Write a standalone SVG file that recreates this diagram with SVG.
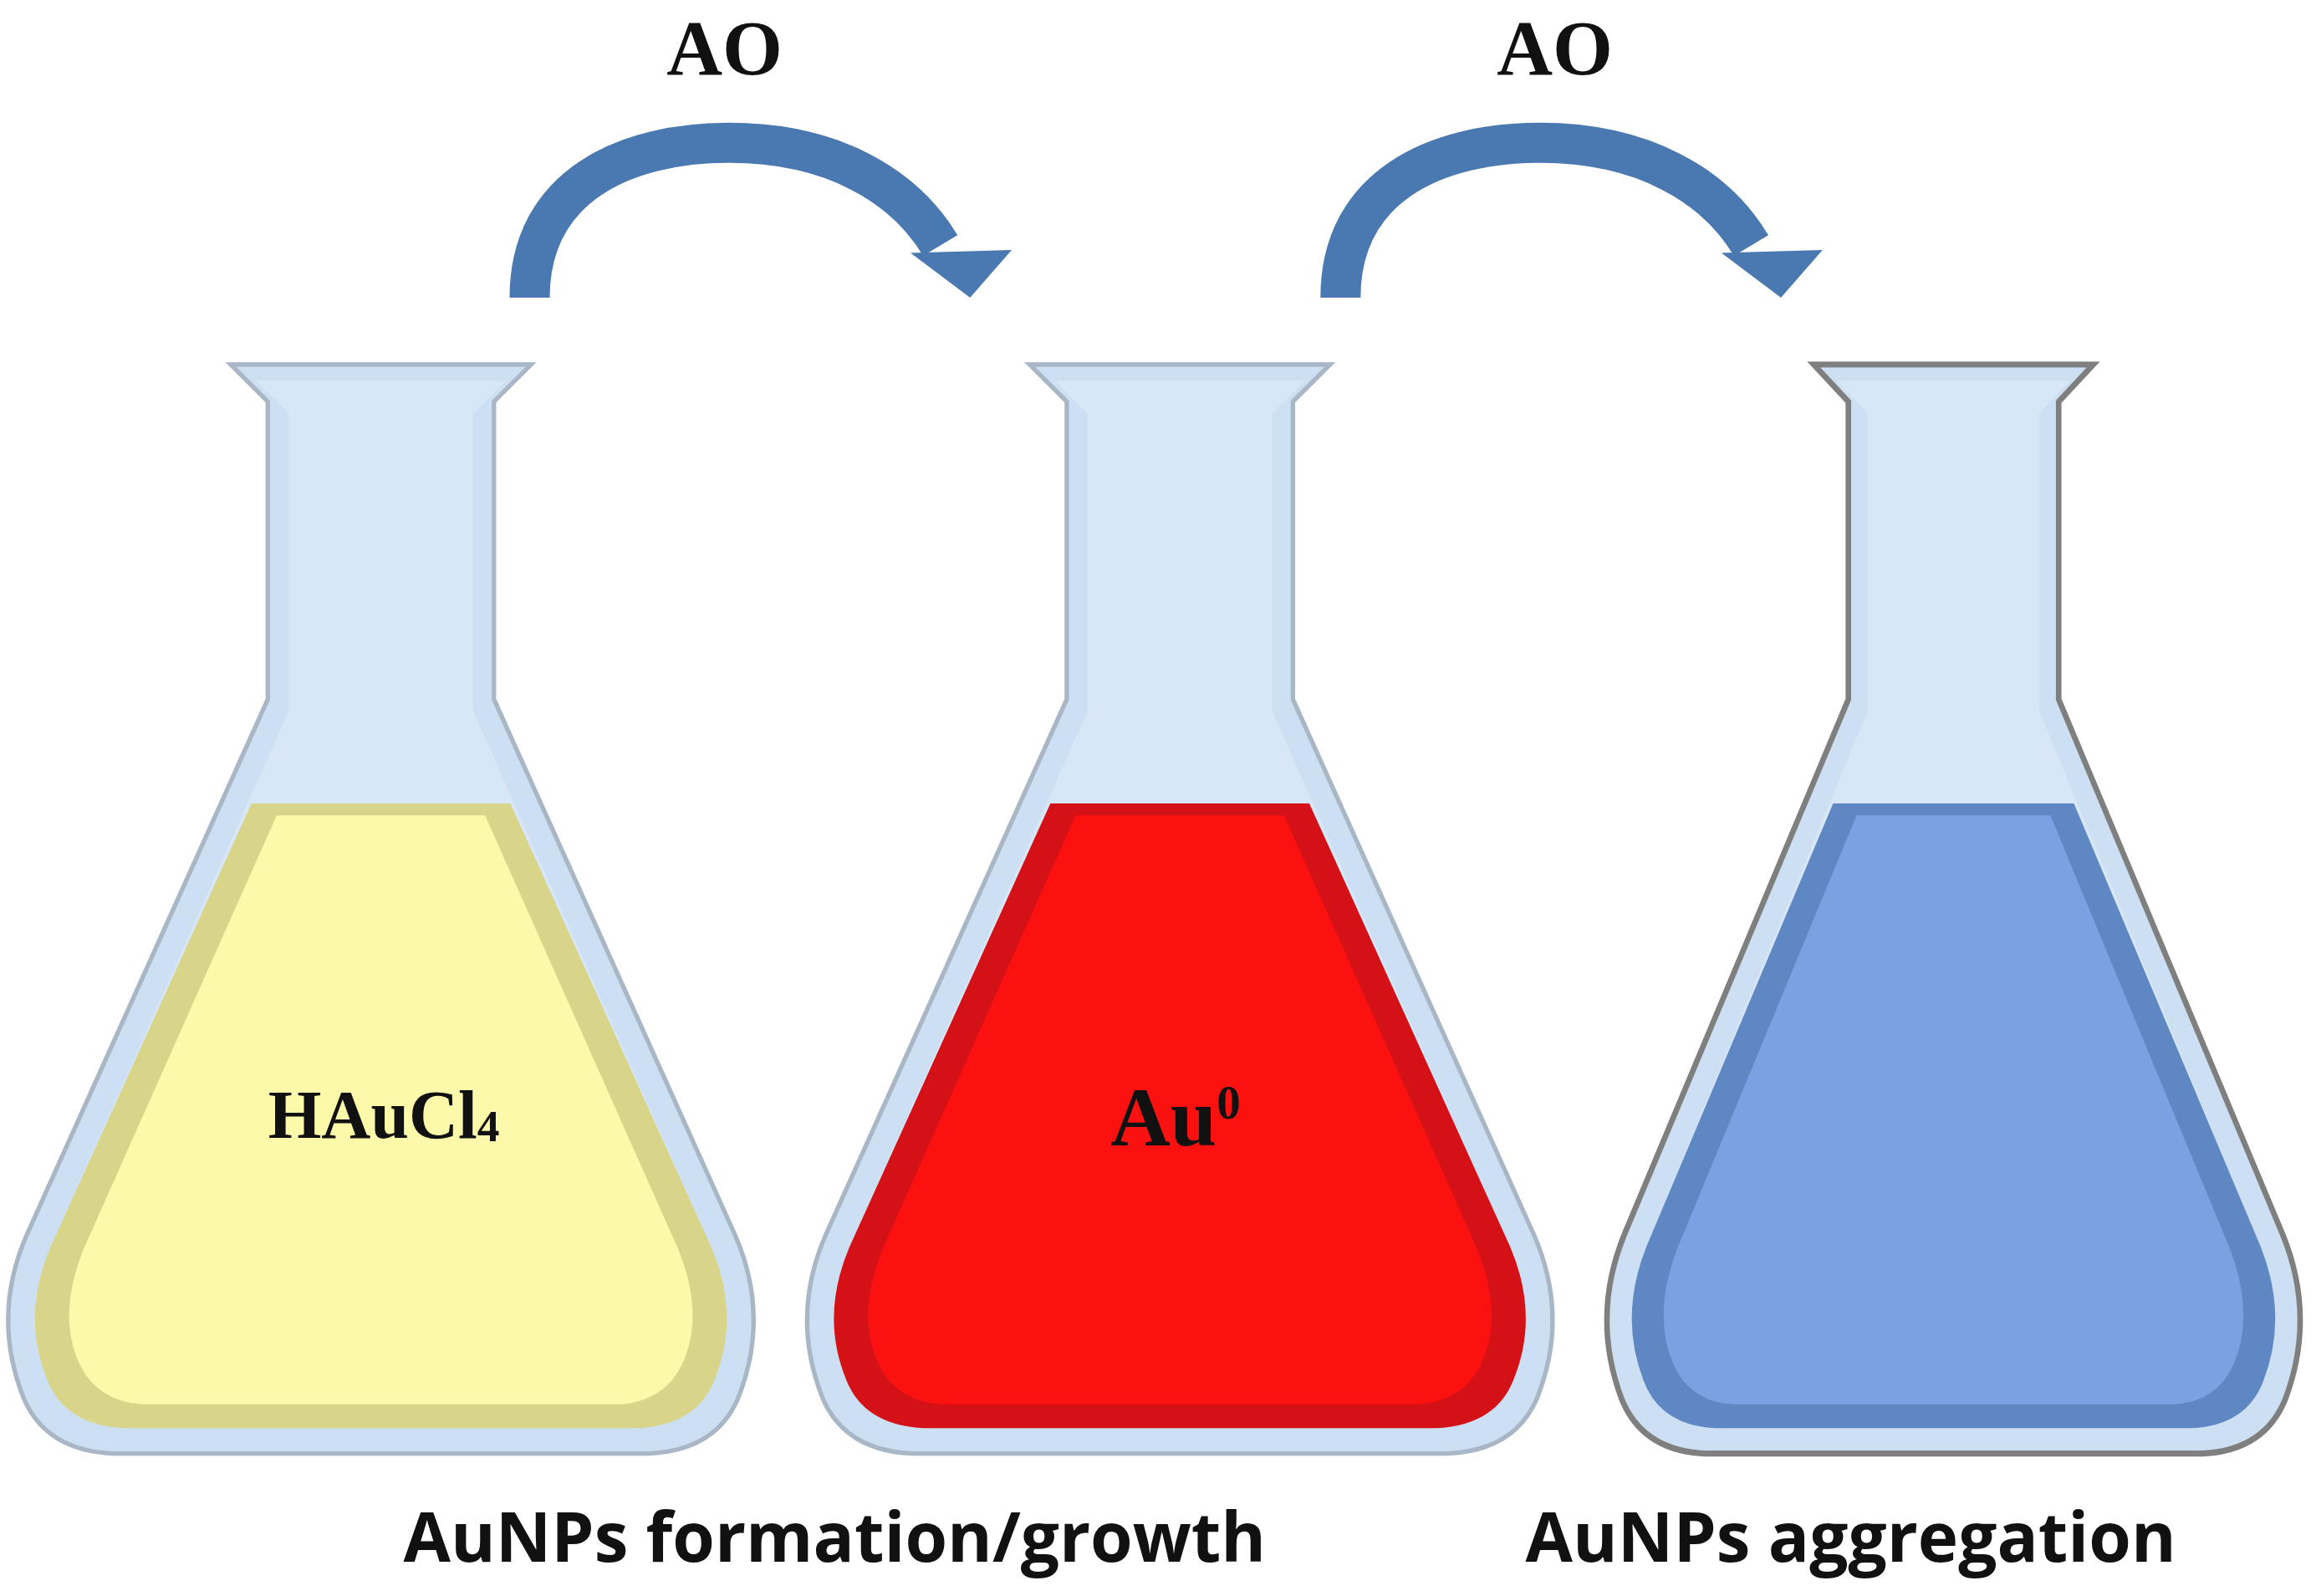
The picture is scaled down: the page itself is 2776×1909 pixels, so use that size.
<svg xmlns="http://www.w3.org/2000/svg" width="2776" height="1909" viewBox="0 0 2776 1909">
<style>
.ao{font-family:"Liberation Serif",serif;font-weight:bold;font-size:52px;fill:#111}
.lab{font-family:"Open Sans","Liberation Sans",sans-serif;font-weight:bold;font-size:46px;fill:#111}
.arc{fill:none;stroke:#4a79b2;stroke-width:27}
.head{fill:#4a79b2}
</style>
<defs>
<path id="outer" d="M-101,245 L101,245 L76,270 L76,470 L238,830 Q262,885 240,940 Q225,975 180,977 L-180,977 Q-225,975 -240,940 Q-262,885 -238,830 L-76,470 L-76,270 Z"/>
<path id="inner" d="M-84,256 L84,256 L62,278 L62,478 L222,838 Q242,885 224,928 Q212,958 172,960 L-172,960 Q-212,958 -224,928 Q-242,885 -222,838 L-62,478 L-62,278 Z"/>
<path id="liq" d="M-87,540 L87,540 L222,838 Q242,885 224,928 Q212,958 172,960 L-172,960 Q-212,958 -224,928 Q-242,885 -222,838 Z"/>
<path id="liqin" d="M-70,548 L70,548 L200,840 Q218,885 202,918 Q190,942 160,944 L-160,944 Q-190,942 -202,918 Q-218,885 -200,840 Z"/>
</defs>
<rect width="2776" height="1909" fill="#fff"/>
<g transform="scale(1.7795)">
<g id="flask1" transform="translate(256,0)">
<use href="#outer" fill="#cddff2" stroke="#a9b6c6" stroke-width="3"/>
<use href="#inner" fill="#d8e7f8"/>
<use href="#liq" fill="#d8d48a"/>
<use href="#liqin" fill="#fcf9aa"/>
</g>
<g id="flask2" transform="translate(793,0)">
<use href="#outer" fill="#cddff2" stroke="#a9b6c6" stroke-width="3"/>
<use href="#inner" fill="#d8e7f8"/>
<use href="#liq" fill="#d51118"/>
<use href="#liqin" fill="#fc1111"/>
</g>
<g id="flask3" transform="translate(1313,0) scale(0.93,1)">
<use href="#outer" fill="#cddff2" stroke="#7f7f7f" stroke-width="4"/>
<use href="#inner" fill="#d8e7f8"/>
<use href="#liq" fill="#5f87c4"/>
<use href="#liqin" fill="#7aa2e3"/>
</g>
<g id="labels">
<text class="ao" x="258" y="765" text-anchor="middle" style="font-size:46px">HAuCl<tspan style="font-size:30px" dy="2">4</tspan></text>
<text class="ao" x="790" y="770" text-anchor="middle" style="font-size:56px">Au<tspan style="font-size:32px" dy="-18">0</tspan></text>
<text class="ao" x="487" y="50" text-anchor="middle">AO</text>
<text class="ao" x="1045" y="50" text-anchor="middle">AO</text>
<text class="lab" x="561" y="1050" text-anchor="middle">AuNPs formation/growth</text>
<text class="lab" x="1244" y="1050" text-anchor="middle">AuNPs aggregation</text>
</g>
<g id="connectors">
<path class="arc" d="M356,200 C356,125 420,96 490,96 C560,96 608,125 632,165"/>
<polygon class="head" points="612,170 680,168 652,200"/>
<path class="arc" d="M901,200 C901,125 965,96 1035,96 C1105,96 1153,125 1177,165"/>
<polygon class="head" points="1157,170 1225,168 1197,200"/>
</g>
</g>
</svg>
